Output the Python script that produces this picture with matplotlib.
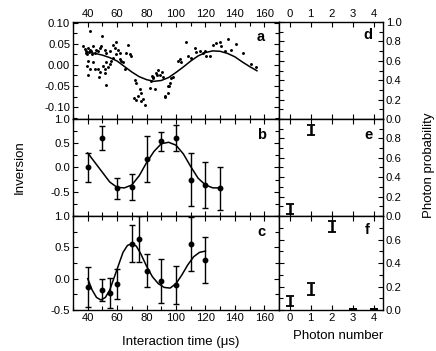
import matplotlib
matplotlib.use("Agg")
import matplotlib.pyplot as plt
from matplotlib.ticker import MultipleLocator, FormatStrFormatter, FixedLocator

plt.rcParams['font.family'] = ['Liberation Sans', 'DejaVu Sans']

# --- panel a: raw inversion points + fit ---
a_time = [36.8, 37.9, 39.1, 40.2, 41.3, 42.5, 43.6, 44.7, 45.9, 47.0, 48.1, 38.6, 39.5, 43.2,
          40.9, 41.3, 50.0, 49.3, 51.5, 52.7, 54.9, 57.2, 59.0, 58.3, 60.6, 61.7, 59.5, 67.4,
          66.3, 68.5, 69.7, 64.0, 65.1, 62.9, 61.7, 40.2, 39.5, 41.3, 40.2, 47.0, 47.7, 50.4,
          52.7, 51.5, 53.8, 52.7, 43.6, 44.7, 48.1, 51.5, 54.9, 57.2, 56.1,
          72.0, 73.1, 75.4, 76.5, 74.2, 71.3, 73.1, 76.5, 78.8, 77.6, 82.2, 85.6, 83.3, 84.4,
          86.7, 87.8, 89.4, 91.2, 92.4, 94.6, 95.3, 95.8, 96.9, 98.0, 83.5, 87.0, 90.3, 84.6,
          92.6, 94.8,
          101.4, 102.6, 103.7, 107.1, 108.2, 110.5, 112.8, 113.9, 116.2, 118.4, 119.6, 120.7,
          123.0, 125.2, 127.5, 129.8, 130.9, 133.2, 135.4, 137.7, 140.7, 145.6, 151.3, 154.5]
a_inv = [0.044, 0.038, 0.033, 0.040, 0.036, 0.033, 0.044, 0.029, 0.036, 0.033, 0.040, 0.029,
         0.025, 0.025, 0.030, 0.080, 0.068, 0.044, 0.036, 0.029, 0.033, 0.048, 0.053, 0.040,
         0.036, 0.029, 0.025, 0.048, 0.029, 0.025, 0.021, 0.006, -0.009, 0.010, 0.014, 0.010,
         -0.002, -0.009, -0.024, -0.009, -0.028, -0.002, 0.006, -0.009, -0.005, -0.047, 0.006,
         -0.009, -0.017, -0.020, 0.002, 0.017, 0.010,
         -0.036, -0.043, -0.058, -0.066, -0.074, -0.079, -0.083, -0.085, -0.096, -0.081,
         -0.055, -0.058, -0.039, -0.028, -0.020, -0.013, -0.024, -0.028, -0.077, -0.066,
         -0.051, -0.043, -0.030, -0.028, -0.027, -0.024, -0.016, -0.031, -0.073, -0.050,
         0.010, 0.014, 0.006, 0.055, 0.021, 0.015, 0.040, 0.030, 0.033, 0.029, 0.033, 0.021,
         0.020, 0.048, 0.052, 0.055, 0.044, 0.033, 0.061, 0.036, 0.050, 0.029, 0.002, -0.004]
a_fit_t = [40, 45, 50, 55, 60, 65, 70, 75, 80, 85, 90, 95, 100, 105, 110, 115, 120, 125, 130,
           135, 140, 145, 150, 155]
a_fit_v = [0.030, 0.027, 0.023, 0.017, 0.009, -0.004, -0.017, -0.028, -0.035, -0.039, -0.037,
           -0.030, -0.018, -0.005, 0.009, 0.021, 0.029, 0.033, 0.032, 0.027, 0.019, 0.007,
           -0.004, -0.014]

# --- panel b ---
b_time = [40, 50, 60, 70, 80, 90, 100, 110, 120, 130]
b_inv = [0.0, 0.61, -0.43, -0.40, 0.18, 0.54, 0.60, -0.25, -0.36, -0.43]
b_err = [0.30, 0.24, 0.22, 0.26, 0.47, 0.19, 0.27, 0.54, 0.47, 0.44]
b_fit_t = [40, 45, 50, 55, 60, 65, 70, 75, 80, 85, 90, 95, 100, 105, 110, 115, 120, 125, 130]
b_fit_v = [0.30, 0.10, -0.10, -0.30, -0.41, -0.42, -0.36, -0.17, 0.10, 0.33, 0.49, 0.52, 0.46,
           0.28, 0.02, -0.22, -0.36, -0.42, -0.42]

# --- panel c ---
c_time = [40, 50, 55, 60, 70, 75, 80, 90, 100, 110, 120]
c_inv = [-0.13, -0.18, -0.23, -0.09, 0.56, 0.63, 0.13, -0.04, -0.10, 0.56, 0.30]
c_err = [0.32, 0.17, 0.24, 0.24, 0.30, 0.37, 0.26, 0.35, 0.30, 0.43, 0.37]
c_fit_t = [40, 43, 46, 49, 52, 55, 58, 61, 64, 67, 70, 73, 76, 80, 84, 88, 92, 96, 100, 104,
           108, 112, 116, 120]
c_fit_v = [0.0, -0.18, -0.30, -0.34, -0.30, -0.18, 0.02, 0.22, 0.42, 0.53, 0.56, 0.52, 0.40,
           0.20, 0.03, -0.08, -0.14, -0.15, -0.08, 0.06, 0.22, 0.35, 0.42, 0.44]

# --- photon number distributions ---
e_n = [0, 1]
e_p = [0.07, 0.89]
e_err = [0.05, 0.05]
f_n = [0, 1, 2, 3, 4]
f_p = [0.075, 0.18, 0.71, 0.006, 0.005]
f_err = [0.04, 0.05, 0.05, 0.0, 0.0]

fig = plt.figure(figsize=(4.36, 3.51), dpi=100)

rows = [(0.661, 0.276), (0.3846, 0.2764), (0.1168, 0.2678)]
left_x, left_w = 0.1674, 0.4725
right_x, right_w = 0.640, 0.2385

ax_a = fig.add_axes([left_x, rows[0][0], left_w, rows[0][1]])
ax_b = fig.add_axes([left_x, rows[1][0], left_w, rows[1][1]])
ax_c = fig.add_axes([left_x, rows[2][0], left_w, rows[2][1]])
ax_d = fig.add_axes([right_x, rows[0][0], right_w, rows[0][1]])
ax_e = fig.add_axes([right_x, rows[1][0], right_w, rows[1][1]])
ax_f = fig.add_axes([right_x, rows[2][0], right_w, rows[2][1]])

for ax in (ax_a, ax_b, ax_c, ax_d, ax_e, ax_f):
    for s in ax.spines.values():
        s.set_linewidth(1.0)
    ax.tick_params(which='both', direction='in', top=True, right=True, labelsize=8.1,
                   width=0.8, pad=2)
    ax.tick_params(which='major', length=3.5)
    ax.tick_params(which='minor', length=3.0)

# left column
for ax in (ax_a, ax_b, ax_c):
    ax.set_xlim(30, 170)
    ax.xaxis.set_major_locator(MultipleLocator(20))
    ax.xaxis.set_minor_locator(MultipleLocator(10))
    ax.tick_params(labelbottom=False)

ax_a.scatter(a_time, a_inv, s=4.5, color='black', linewidths=0)
ax_a.plot(a_fit_t, a_fit_v, color='black', lw=1.1)
ax_a.set_ylim(-0.128, 0.101)
ax_a.yaxis.set_major_locator(FixedLocator([-0.10, -0.05, 0.0, 0.05, 0.10]))
ax_a.yaxis.set_minor_locator(MultipleLocator(0.025))
ax_a.yaxis.set_major_formatter(FormatStrFormatter('%.2f'))
ax_a.tick_params(labeltop=True)

ax_b.errorbar(b_time, b_inv, yerr=b_err, fmt='o', color='black', ms=3.2, capsize=2.3,
              elinewidth=1.0, capthick=1.0)
ax_b.plot(b_fit_t, b_fit_v, color='black', lw=1.1)
ax_b.set_ylim(-1.0, 1.0)
ax_b.yaxis.set_major_locator(FixedLocator([-0.5, 0.0, 0.5, 1.0]))
ax_b.yaxis.set_minor_locator(MultipleLocator(0.25))
ax_b.yaxis.set_major_formatter(FormatStrFormatter('%.1f'))

ax_c.errorbar(c_time, c_inv, yerr=c_err, fmt='o', color='black', ms=3.2, capsize=2.3,
              elinewidth=1.0, capthick=1.0)
ax_c.plot(c_fit_t, c_fit_v, color='black', lw=1.1)
ax_c.set_ylim(-0.5, 1.0)
ax_c.yaxis.set_major_locator(FixedLocator([-0.5, 0.0, 0.5, 1.0]))
ax_c.yaxis.set_minor_locator(MultipleLocator(0.25))
ax_c.yaxis.set_major_formatter(FormatStrFormatter('%.1f'))
ax_c.tick_params(labelbottom=True)

# right column
for ax in (ax_d, ax_e, ax_f):
    ax.set_xlim(-0.5, 4.45)
    ax.xaxis.set_major_locator(MultipleLocator(1))
    ax.yaxis.set_major_formatter(FormatStrFormatter('%.1f'))
    ax.yaxis.set_minor_locator(MultipleLocator(0.1))
    ax.tick_params(labelleft=False, labelright=True, labelbottom=False)

ax_d.set_ylim(0, 1.0)
ax_d.yaxis.set_major_locator(FixedLocator([0.0, 0.2, 0.4, 0.6, 0.8, 1.0]))
ax_d.tick_params(labeltop=True)

ax_e.errorbar(e_n, e_p, yerr=e_err, fmt='none', ecolor='black', capsize=3,
              elinewidth=1.8, capthick=1.3)
ax_e.set_ylim(0, 1.0)
ax_e.yaxis.set_major_locator(FixedLocator([0.0, 0.2, 0.4, 0.6, 0.8]))

ax_f.errorbar(f_n, f_p, yerr=f_err, fmt='none', ecolor='black', capsize=3,
              elinewidth=1.8, capthick=1.3)
ax_f.set_ylim(0, 0.8)
ax_f.yaxis.set_major_locator(FixedLocator([0.0, 0.2, 0.4, 0.6]))
ax_f.tick_params(labelbottom=True)

# panel letters
for ax, lab, x, y in [(ax_a, 'a', 0.913, 0.845), (ax_b, 'b', 0.917, 0.835),
                      (ax_c, 'c', 0.917, 0.83), (ax_d, 'd', 0.856, 0.866),
                      (ax_e, 'e', 0.856, 0.835), (ax_f, 'f', 0.846, 0.85)]:
    ax.text(x, y, lab, transform=ax.transAxes, fontsize=10.5, fontweight='bold',
            ha='center', va='center')

fig.text(0.045, 0.525, 'Inversion', rotation=90, ha='center', va='center', fontsize=9.5)
fig.text(0.984, 0.53, 'Photon probability', rotation=90, ha='center', va='center',
         fontsize=9.5)
fig.text(0.415, 0.025, 'Interaction time (\u03bcs)', ha='center', va='center', fontsize=9.5)
fig.text(0.775, 0.042, 'Photon number', ha='center', va='center', fontsize=9.5)

fig.savefig('out.png', dpi=100)
